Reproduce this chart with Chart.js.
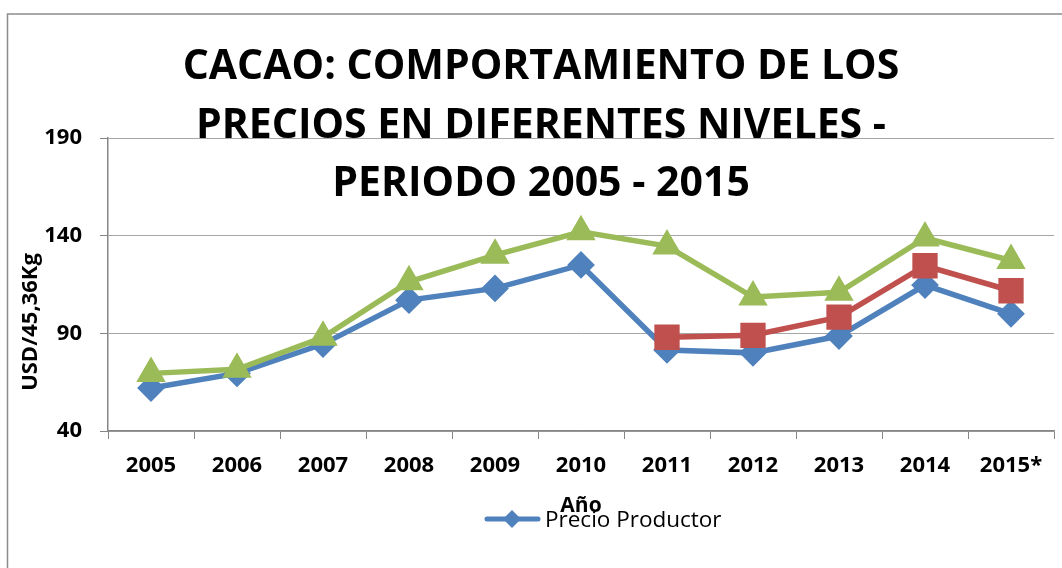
<!DOCTYPE html>
<html>
<head>
<meta charset="utf-8">
<script src="https://cdn.jsdelivr.net/npm/chart.js@4.4.0/dist/chart.umd.min.js"></script>
<style>
  html, body { margin: 0; padding: 0; background: #fff; }
  #wrap { width: 1062px; height: 568px; }
</style>
</head>
<body>
<div id="wrap"><canvas id="preciosChart" width="1062" height="568"></canvas></div>
<script>
const years = ['2005', '2006', '2007', '2008', '2009', '2010', '2011', '2012', '2013', '2014', '2015*'];
const precioProductor = [62, 69.5, 84.5, 107, 113, 125, 81.5, 80, 88.6, 114.7, 100];
const precioExportacion = [null, null, null, null, null, null, 88, 89, 98.3, 124.6, 111.8];
const precioInternacional = [69.5, 71.6, 88, 116.4, 130, 142, 134.7, 108.6, 111, 138.8, 127.3];
const yTicks = [40, 90, 140, 190];
const titleLines = ['CACAO: COMPORTAMIENTO DE LOS', 'PRECIOS EN DIFERENTES NIVELES -', 'PERIODO 2005 - 2015'];
const yTitle = 'USD/45,36Kg';
const xTitle = 'Año';

const FONT = "'Open Sans', sans-serif";
Chart.defaults.font.family = FONT;
Chart.defaults.color = '#000';

// marco, titulo, titulo del eje Y y leyenda (se superponen como en el original)
const decor = {
    id: 'decor',
    beforeDraw(chart) {
        const ctx = chart.ctx;
        ctx.save();
        ctx.fillStyle = '#fff';
        ctx.fillRect(0, 0, chart.width, chart.height);
        ctx.strokeStyle = '#8c8c8c';
        ctx.lineWidth = 1.5;
        ctx.strokeRect(7.5, 14, chart.width + 20, chart.height + 20);
        ctx.restore();
    },
    afterDraw(chart) {
        const ctx = chart.ctx;
        ctx.save();
        ctx.fillStyle = '#000';
        ctx.textAlign = 'center';
        ctx.textBaseline = 'alphabetic';
        ctx.font = 'bold 41px ' + FONT;
        titleLines.forEach((t, i) => ctx.fillText(t, 541, 79 + i * 58.7));

        ctx.font = 'bold 22px ' + FONT;
        ctx.translate(37, 322);
        ctx.rotate(-Math.PI / 2);
        ctx.fillText(yTitle, 0, 0);
        ctx.restore();

        const ds = chart.data.datasets[0];
        ctx.save();
        ctx.strokeStyle = ds.borderColor;
        ctx.lineWidth = 5;
        ctx.lineCap = 'round';
        ctx.beginPath();
        ctx.moveTo(487, 519);
        ctx.lineTo(538, 519);
        ctx.stroke();
        ctx.fillStyle = ds.borderColor;
        ctx.beginPath();
        ctx.moveTo(512, 510);
        ctx.lineTo(521, 519);
        ctx.lineTo(512, 528);
        ctx.lineTo(503, 519);
        ctx.closePath();
        ctx.fill();
        ctx.fillStyle = '#000';
        ctx.font = '22.5px ' + FONT;
        ctx.textAlign = 'left';
        ctx.fillText(ds.label, 545, 527);
        ctx.restore();
    }
};

new Chart(document.getElementById('preciosChart'), {
    type: 'line',
    data: {
        labels: years,
        datasets: [{
            label: 'Precio Productor',
            data: precioProductor,
            borderColor: '#4F81BD',
            backgroundColor: '#4F81BD',
            borderWidth: 5.5,
            pointStyle: 'rectRot',
            pointRadius: 10,
            pointHoverRadius: 10,
            tension: 0,
            order: 3
        }, {
            label: 'Precio Exportación',
            data: precioExportacion,
            borderColor: '#C0504D',
            backgroundColor: '#C0504D',
            borderWidth: 5.5,
            pointStyle: 'rect',
            pointRadius: 14,
            pointHoverRadius: 14,
            tension: 0,
            order: 2
        }, {
            label: 'Precio Internacional',
            data: precioInternacional,
            borderColor: '#9BBB59',
            backgroundColor: '#9BBB59',
            borderWidth: 5.5,
            pointStyle: 'triangle',
            pointRadius: 11.5,
            pointHoverRadius: 11.5,
            tension: 0,
            order: 1
        }]
    },
    options: {
        responsive: false,
        animation: false,
        layout: {
            autoPadding: false,
            padding: { left: 0, top: 138, right: 8, bottom: 49 }
        },
        plugins: {
            legend: { display: false },
            title: { display: false },
            tooltip: { enabled: false }
        },
        scales: {
            x: {
                offset: true,
                afterFit: s => {
                    s.height = 88;
                    s.paddingLeft = 0;
                    s.paddingRight = 0;
                },
                grid: {
                    display: true,
                    offset: true,
                    drawOnChartArea: false,
                    drawTicks: true,
                    tickLength: 8,
                    tickColor: '#868686'
                },
                border: { display: true, color: '#868686', width: 1.5 },
                ticks: {
                    font: { size: 22, weight: 'bold' },
                    padding: 14,
                    maxRotation: 0,
                    autoSkip: false
                },
                title: {
                    display: true,
                    text: xTitle,
                    font: { size: 21, weight: 'bold' },
                    padding: 0
                }
            },
            y: {
                min: 40,
                max: 190,
                afterFit: s => { s.width = 108; },
                afterBuildTicks: s => { s.ticks = yTicks.map(v => ({ value: v })); },
                grid: {
                    color: '#a6a6a6',
                    borderDash: [3, 3],
                    tickBorderDash: [],
                    tickColor: '#868686',
                    tickLength: 8,
                    drawTicks: true
                },
                border: { display: true, color: '#868686', width: 1.5 },
                ticks: {
                    font: { size: 22, weight: 'bold' },
                    padding: 18
                }
            }
        }
    },
    plugins: [decor]
});
</script>
</body>
</html>
